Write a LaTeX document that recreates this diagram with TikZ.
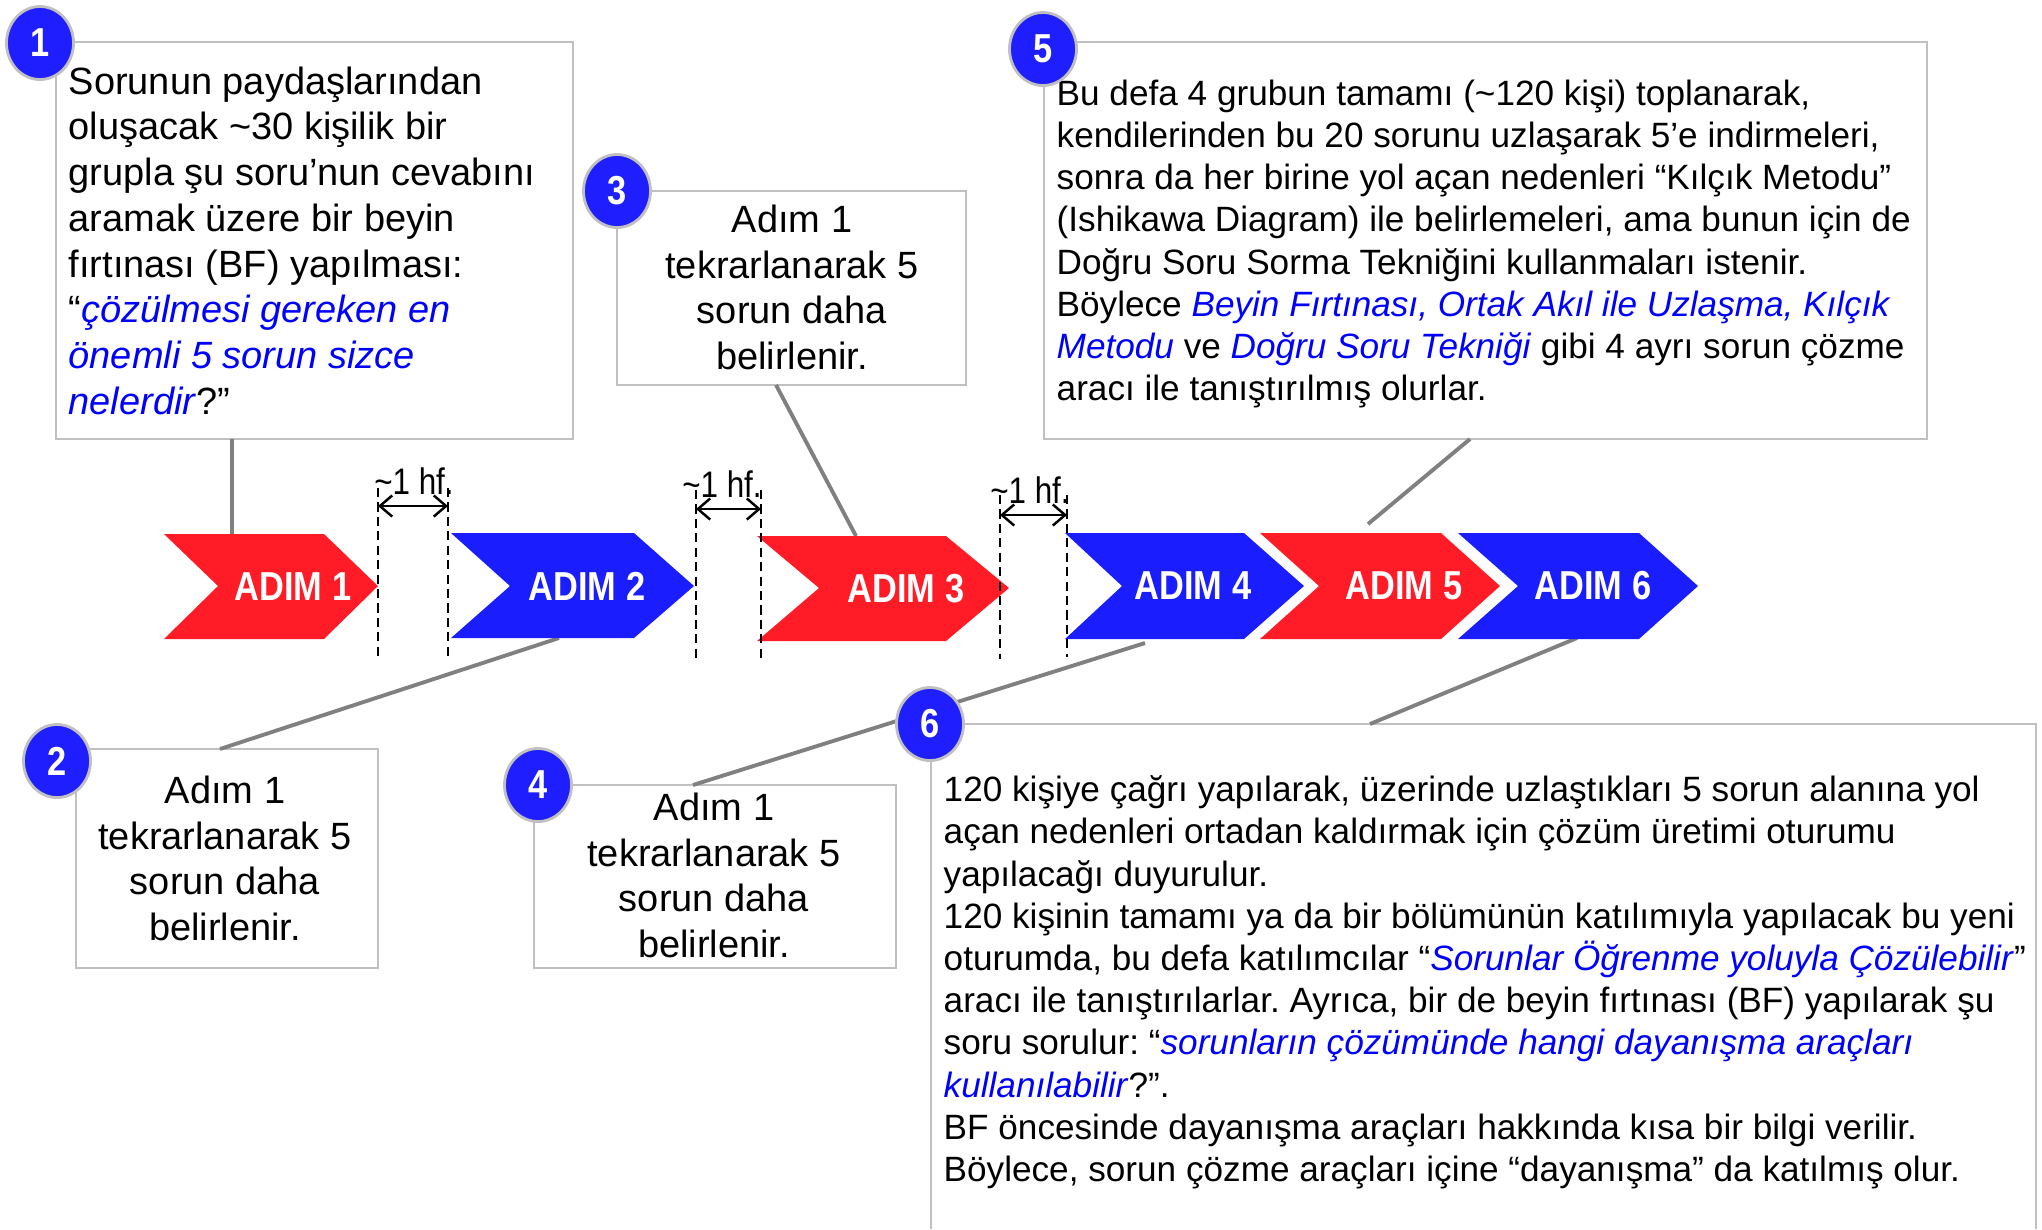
\documentclass[tikz,border=0pt]{standalone}
\usepackage{fontspec}
\setmainfont{Liberation Sans}
\usetikzlibrary{arrows.meta,shapes.geometric}
\frenchspacing

\definecolor{adimred}{RGB}{255,28,38}
\definecolor{adimblue}{RGB}{26,30,255}
\definecolor{numblue}{RGB}{30,30,255}
\definecolor{boxgray}{RGB}{192,192,192}
\definecolor{linegray}{RGB}{128,128,128}

\newcommand{\narrow}[1]{\scalebox{0.85}[1]{#1}}
\newcommand{\mavi}[1]{\textcolor{blue}{\textit{#1}}}

\tikzset{
    kutu/.style={draw=boxgray, line width=0.75pt},
    bag/.style={draw=linegray, line width=1.1pt},
    numara/.style={ellipse, fill=numblue, draw=boxgray, line width=0.8pt,
        minimum width=0.67cm, minimum height=0.73cm, inner sep=0pt,
        text=white, font=\fontsize{11.5}{12}\selectfont\bfseries},
    adim/.style={inner sep=0pt, text=white, font=\fontsize{11.5}{12}\selectfont\bfseries},
    hf/.style={inner sep=0pt, font=\fontsize{10.5}{12}\selectfont},
    yazi/.style={inner sep=0pt, font=\fontsize{10.8}{13}\selectfont,
        execute at begin node=\strut, execute at end node=\strut},
    yaziküçük/.style={inner sep=0pt, align=left, font=\fontsize{10}{12}\selectfont,
        execute at begin node=\strut},
    kesik/.style={draw=black, line width=0.65pt, dash pattern=on 2.6pt off 1.5pt},
    aralik/.style={{Straight Barb[length=3.5pt,width=6pt]}-{Straight Barb[length=3.5pt,width=6pt]}, line width=0.7pt}
}

\begin{document}
\begin{tikzpicture}
    \begin{scope}[x=0.01cm, y=-0.01cm]
        \useasboundingbox (0,0) rectangle (2042,1229);

        % kutular
        \draw[kutu] (56,42) rectangle (573,439);
        \draw[kutu] (617,191) rectangle (966,385);
        \draw[kutu] (1044,42) rectangle (1927,439);
        \draw[kutu] (76,749) rectangle (378,968);
        \draw[kutu] (534,785) rectangle (896,968);
        \draw[kutu] (931,1229) -- (931,724) -- (2036,724) -- (2036,1229);

        % baglanti noktalari
        \coordinate (k1) at (232,439);
        \coordinate (a1) at (232,534);
        \coordinate (k3) at (776,385);
        \coordinate (a3) at (856,536);
        \coordinate (k5) at (1470,439);
        \coordinate (a5) at (1368,524);
        \coordinate (k2) at (220,749);
        \coordinate (a2) at (559,638);
        \coordinate (k4) at (693,785);
        \coordinate (a4) at (1145,643);
        \coordinate (k6) at (1370,724);
        \coordinate (a6) at (1577,638);

        \draw[bag] (k1) -- (a1);
        \draw[bag] (k3) -- (a3);
        \draw[bag] (k5) -- (a5);
        \draw[bag] (k2) -- (a2);
        \draw[bag] (k4) -- (a4);
        \draw[bag] (k6) -- (a6);

        % adimlar
        \fill[adimred] (164,534) -- (324,534) -- (378,586) -- (324,639) -- (164,639) -- (218,586) -- cycle;
        \fill[adimblue] (451,533) -- (634,533) -- (694,586) -- (634,638) -- (451,638) -- (510,586) -- cycle;
        \fill[adimred] (757,536) -- (946,536) -- (1009,588) -- (946,641) -- (757,641) -- (819,588) -- cycle;
        \fill[adimblue] (1065,533) -- (1244,533) -- (1304,586) -- (1244,639) -- (1065,639) -- (1122,586) -- cycle;
        \fill[adimred] (1260,533) -- (1441,533) -- (1500,586) -- (1441,639) -- (1260,639) -- (1319,586) -- cycle;
        \fill[adimblue] (1458,533) -- (1639,533) -- (1698,586) -- (1639,639) -- (1458,639) -- (1518,586) -- cycle;

        \node[adim] (adim1) at (293,587) {\narrow{ADIM 1}};
        \node[adim] (adim2) at (587,586) {\narrow{ADIM 2}};
        \node[adim] (adim3) at (906,589) {\narrow{ADIM 3}};
        \node[adim] (adim4) at (1193,586) {\narrow{ADIM 4}};
        \node[adim] (adim5) at (1404,586) {\narrow{ADIM 5}};
        \node[adim] (adim6) at (1593,586) {\narrow{ADIM 6}};

        % ~1 hafta araliklari
        \draw[kesik] (378,488) -- (378,657);
        \draw[kesik] (448,488) -- (448,657);
        \draw[kesik] (696,490) -- (696,659);
        \draw[kesik] (761,490) -- (761,659);
        \draw[kesik] (1000,495) -- (1000,659);
        \draw[kesik] (1067,495) -- (1067,657);

        \coordinate (h1a) at (378,506);
        \coordinate (h1b) at (448,506);
        \coordinate (h2a) at (696,509);
        \coordinate (h2b) at (761,509);
        \coordinate (h3a) at (1000,515);
        \coordinate (h3b) at (1067,515);
        \draw[aralik] (h1a) -- (h1b);
        \draw[aralik] (h2a) -- (h2b);
        \draw[aralik] (h3a) -- (h3b);

        \node[hf] (hf1) at (414,481) {\narrow{\textasciitilde1 hf.}};
        \node[hf] (hf2) at (722,484) {\narrow{\textasciitilde1 hf.}};
        \node[hf] (hf3) at (1030,490) {\narrow{\textasciitilde1 hf.}};

        % metinler
        \node[yazi, align=left, anchor=north west] (t1) at (68,66) {Sorunun paydaşlarından\\
            oluşacak \textasciitilde30 kişilik bir\\
            grupla şu soru’nun cevabını\\
            aramak üzere bir beyin\\
            fırtınası (BF) yapılması:\\
            “\mavi{çözülmesi gereken en}\\
            \mavi{önemli 5 sorun sizce}\\
            \mavi{nelerdir}?”};

        \node[yazi, align=center] (t3) at (792,294) {Adım 1\\ tekrarlanarak 5\\ sorun daha\\ belirlenir.};
        \node[yazi, align=center] (t2) at (225,865) {Adım 1\\ tekrarlanarak 5\\ sorun daha\\ belirlenir.};
        \node[yazi, align=center] (t4) at (714,882) {Adım 1\\ tekrarlanarak 5\\ sorun daha\\ belirlenir.};

        \node[yaziküçük, anchor=north west] (t5) at (1056,79) {Bu defa 4 grubun tamamı (\textasciitilde120 kişi) toplanarak,\\
            kendilerinden bu 20 sorunu uzlaşarak 5’e indirmeleri,\\
            sonra da her birine yol açan nedenleri “Kılçık Metodu”\\
            (Ishikawa Diagram) ile belirlemeleri, ama bunun için de\\
            Doğru Soru Sorma Tekniğini kullanmaları istenir.\\
            Böylece \mavi{Beyin Fırtınası, Ortak Akıl ile Uzlaşma, Kılçık}\\
            \mavi{Metodu} ve \mavi{Doğru Soru Tekniği} gibi 4 ayrı sorun çözme\\
            aracı ile tanıştırılmış olurlar.};

        \node[yaziküçük, anchor=north west] (t6) at (943,775) {120 kişiye çağrı yapılarak, üzerinde uzlaştıkları 5 sorun alanına yol\\
            açan nedenleri ortadan kaldırmak için çözüm üretimi oturumu\\
            yapılacağı duyurulur.\\
            120 kişinin tamamı ya da bir bölümünün katılımıyla yapılacak bu yeni\\
            oturumda, bu defa katılımcılar “\mavi{Sorunlar Öğrenme yoluyla Çözülebilir}”\\
            aracı ile tanıştırılarlar. Ayrıca, bir de beyin fırtınası (BF) yapılarak şu\\
            soru sorulur: “\mavi{sorunların çözümünde hangi dayanışma araçları}\\
            \mavi{kullanılabilir}?”.\\
            BF öncesinde dayanışma araçları hakkında kısa bir bilgi verilir.\\
            Böylece, sorun çözme araçları içine “dayanışma” da katılmış olur.};

        % numaralar
        \node[numara] (n1) at (40,43) {\narrow{1}};
        \node[numara] (n2) at (57,761) {\narrow{2}};
        \node[numara] (n3) at (617,191) {\narrow{3}};
        \node[numara] (n4) at (538,785) {\narrow{4}};
        \node[numara] (n5) at (1043,49) {\narrow{5}};
        \node[numara] (n6) at (930,724) {\narrow{6}};
    \end{scope}
\end{tikzpicture}
\end{document}
